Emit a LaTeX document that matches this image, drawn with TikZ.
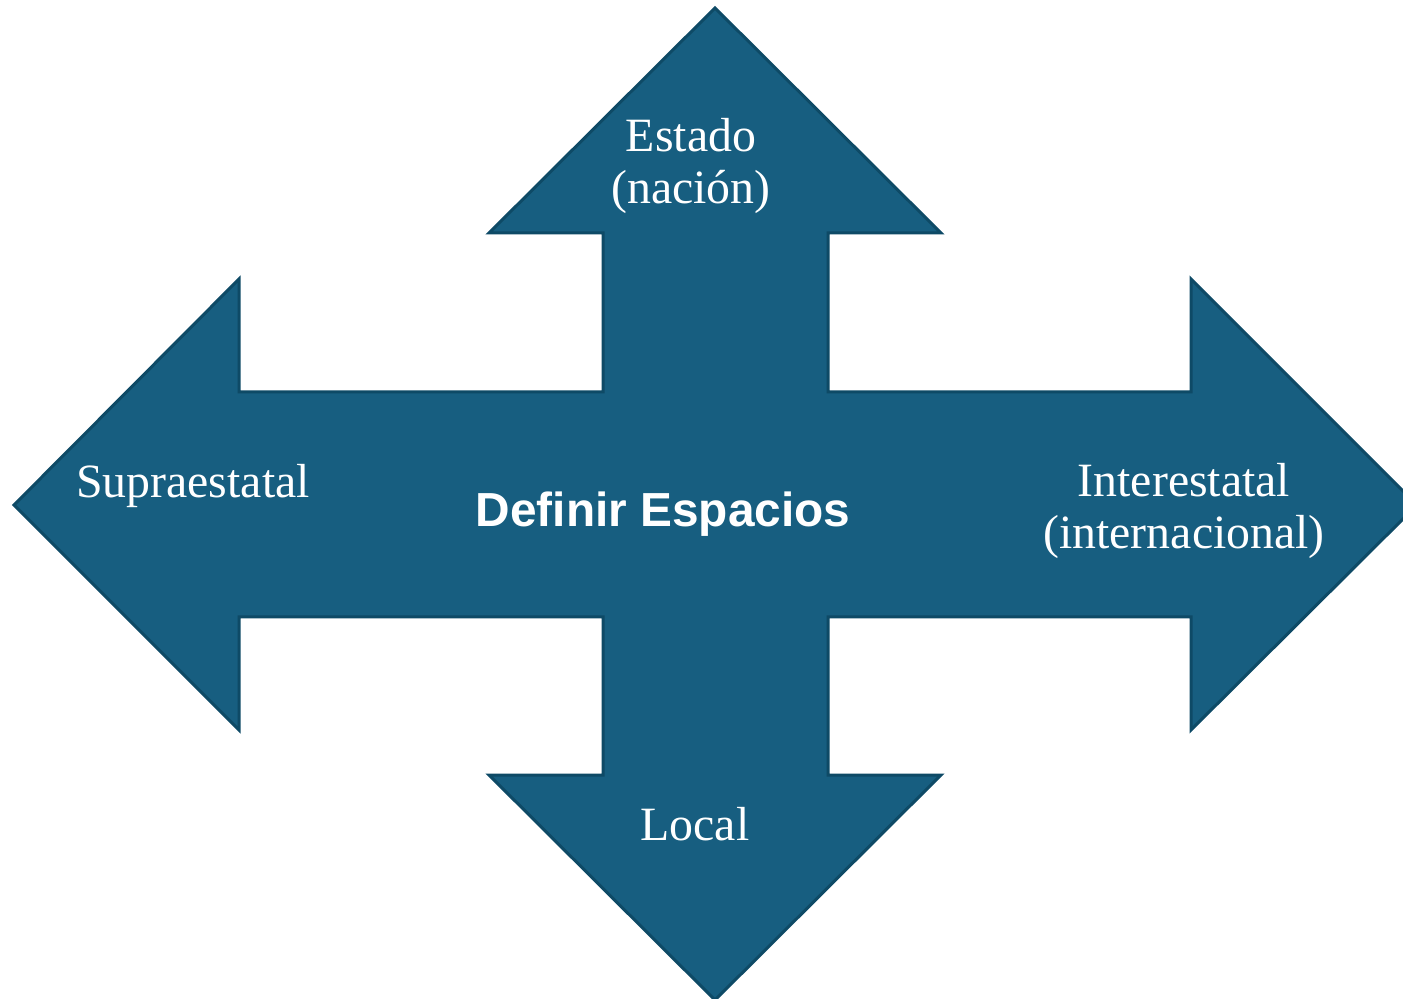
\documentclass[tikz,border=0pt]{standalone}
\usepackage{fontspec}
\setmainfont{Liberation Serif}
\setsansfont{Liberation Sans}
\usepackage{tikz}
\definecolor{espblue}{HTML}{175E80}
\definecolor{espedge}{HTML}{0E4A66}

\begin{document}
\begin{tikzpicture}[x=0.5pt,y=-0.5pt,
    lbl/.style={text=white,font=\fontsize{23.9}{26.2}\selectfont,align=center,inner sep=0pt},
    titulo/.style={text=white,font=\sffamily\bfseries\fontsize{23.9}{26}\selectfont,inner sep=0pt}]
		\useasboundingbox (0,0) rectangle (1403,999);
		\draw[fill=espblue,draw=espedge,line width=1.5pt]
			(715,8) -- (941,233) -- (828,233) -- (828,392) -- (1191,392) -- (1191,279)
			-- (1417,505) -- (1191,730) -- (1191,617) -- (828,617) -- (828,775)
			-- (941,775) -- (715,1000) -- (489,775) -- (603,775) -- (603,617)
			-- (239,617) -- (239,730) -- (14,505) -- (239,279) -- (239,392)
			-- (603,392) -- (603,233) -- (489,233) -- cycle;
		\node[lbl] (estado) at (691,166) {Estado\\(nación)};
		\node[lbl,anchor=base] (supra) at (193,498) {Supraestatal};
		\node[titulo,anchor=base] (definir) at (663,527) {Definir Espacios};
		\node[lbl] (inter) at (1184,511) {Interestatal\\(internacional)};
		\node[lbl,anchor=base] (local) at (695,840) {Local};
\end{tikzpicture}
\end{document}
